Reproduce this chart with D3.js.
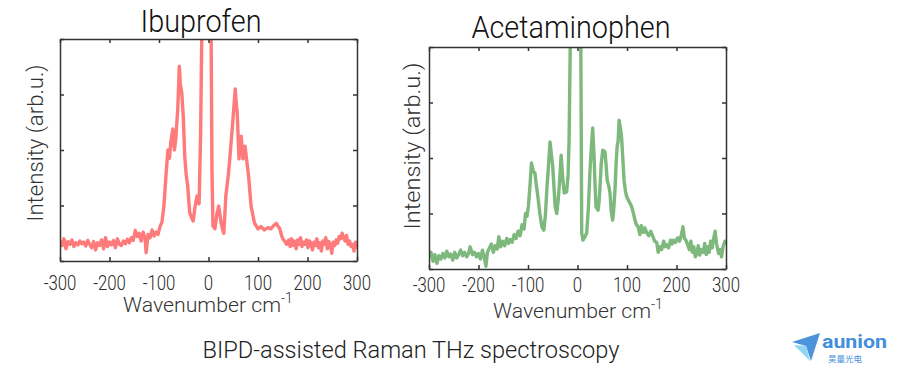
<!DOCTYPE html>
<html lang="en">
<head>
    <script src="https://d3js.org/d3.v7.min.js"></script>
    <style>
        body { margin: 0; background: #fff; }
        text { font-family: "Roboto", "Lato", sans-serif; font-weight: 300; }
    </style>
</head>
<body>
    <svg width="900" height="373"></svg>
    <script>
        // wavenumber (cm-1) and intensity
        const ibuWn = [-300,-296,-292,-288,-284,-280,-276,-272,-268,-264,-260,-256,-252,-248,-244,-240,-236,-232,-228,-224,-220,-216,-212,-208,-204,-200,-196,-192,-188,-184,-180,-176,-172,-168,-164,-160,-156,-152,-148,-144,-140,-136,-132,-128,-126,-122,-118,-114,-110,-106,-102,-98,-94,-90,-86,-82,-79,-76,-72,-69,-66,-62,-59,-57,-54,-51,-48,-45,-42,-38,-34,-31,-27,-23,-19,-16,-13,-8,-2,3,5,7,9,13,17,20.6,25.6,29,31,35,40,43,49.5,54,56,58,61.6,66,69.7,73.8,77.8,81,86,93,100,106,113,120,126,132,137,141,144,147,150,154,158,162,165,168,171,174,177,180,183,186,189,192,195,198,201,204,207,210,213,216,219,222,225,228,231,234,237,240,243,246,249,252,255,258,261,264,267,270,273,276,279,282,285,288,291,294,297,300];
        const ibuInt = [0.36,0.28,0.40,0.22,0.35,0.30,0.38,0.26,0.33,0.29,0.36,0.31,0.34,0.27,0.37,0.30,0.24,0.35,0.20,0.33,0.28,0.38,0.22,0.42,0.26,0.34,0.29,0.37,0.24,0.40,0.30,0.28,0.36,0.31,0.39,0.33,0.42,0.37,0.55,0.44,0.50,0.36,0.52,0.40,0.15,0.48,0.42,0.56,0.45,0.52,0.48,0.62,0.70,1.00,1.53,2.00,1.85,2.15,2.38,2.00,2.20,2.76,3.51,3.20,3.03,2.61,1.89,1.55,1.35,0.87,0.78,0.72,0.99,1.17,1.03,2.25,4.5,8,10,8,4.5,1.66,0.63,0.58,0.85,0.99,0.68,0.55,0.50,1.17,1.55,1.84,2.56,3.10,2.85,2.67,1.84,2.25,1.84,2.07,1.77,1.53,0.99,0.68,0.58,0.62,0.56,0.60,0.58,0.64,0.68,0.62,0.58,0.48,0.40,0.36,0.30,0.38,0.26,0.40,0.28,0.36,0.22,0.38,0.30,0.42,0.26,0.34,0.30,0.38,0.24,0.36,0.32,0.20,0.34,0.28,0.40,0.24,0.33,0.18,0.36,0.30,0.42,0.22,0.35,0.30,0.14,0.34,0.28,0.38,0.32,0.44,0.40,0.50,0.42,0.36,0.46,0.30,0.36,0.26,0.30,0.18,0.34,0.22];

        const aceWn = [-300,-296,-292,-288,-284,-280,-276,-272,-268,-264,-260,-256,-252,-248,-244,-240,-236,-232,-228,-224,-220,-217,-212,-208,-204,-200,-196,-192,-188,-185,-182,-178,-174,-170,-166,-162,-159,-155,-151,-147,-143,-139,-136,-132,-128,-124,-120,-116,-112,-108,-105,-102,-99,-96,-93,-89,-86,-83,-80,-76,-72,-68,-65,-62,-58,-55.5,-52,-50,-47,-45,-42,-39,-36,-33,-30,-27,-22,-19,-17,-14,-10,-4,3,6.5,8.5,11,15,18.6,22,25,28,30.7,33.5,35.5,37.4,41.5,43.5,45.5,48,51,55.5,58,60,63,65.7,68,71,73,75.7,78,80,82,84,86.5,89,91.5,94,97,99.4,104,109.5,113,116,119,122.6,126,129,133,136,140,144,148,152.6,156,160,163,166.7,170,174,177,180,184,188,191,194,198,202,206,210,213,216,219,222,226,229,232,235,238,241,244,247,250,254,257,260,263,266,269,272,275,278,281,285,288,291,294,298,300];
        const aceInt = [0.22,0.30,0.14,0.26,0.10,0.24,0.18,0.28,0.20,0.32,0.22,0.27,0.16,0.30,0.20,0.26,0.34,0.24,0.30,0.22,0.28,0.40,0.26,0.30,0.22,0.28,0.18,0.34,0.20,0.05,0.30,0.38,0.45,0.30,0.42,0.36,0.58,0.40,0.50,0.42,0.55,0.46,0.53,0.48,0.62,0.55,0.68,0.60,0.80,0.72,1.00,0.95,1.15,1.50,1.91,1.75,1.73,1.50,1.30,1.00,0.76,0.70,0.95,1.42,1.95,2.29,2.00,1.84,1.40,1.12,1.00,1.24,1.60,2.05,1.66,1.37,1.39,1.70,2.32,4.5,8,10,8,4.5,0.65,0.52,0.58,0.65,1.10,1.73,2.20,2.54,2.02,1.50,1.12,1.06,1.20,1.48,1.90,2.14,2.11,1.85,1.60,1.50,1.37,1.05,0.88,1.05,1.42,1.90,2.20,2.30,2.68,2.55,2.38,2.00,1.60,1.40,1.30,1.22,1.12,1.00,0.88,0.80,0.76,0.62,0.78,0.66,0.74,0.65,0.60,0.68,0.58,0.50,0.48,0.30,0.40,0.35,0.50,0.40,0.44,0.38,0.52,0.45,0.52,0.48,0.56,0.50,0.62,0.76,0.55,0.52,0.45,0.35,0.50,0.30,0.40,0.22,0.28,0.42,0.25,0.35,0.30,0.46,0.26,0.40,0.30,0.50,0.38,0.55,0.68,0.45,0.28,0.35,0.22,0.40,0.50,0.48];

        const xTicks = [-300, -200, -100, 0, 100, 200, 300];
        const yTicks = [0, 1, 2, 3, 4];

        const svg = d3.select("svg");

        const panels = [
            {id: "ibu", title: "Ibuprofen", wn: ibuWn, val: ibuInt, color: "#ff7a7a",
             left: 60, right: 357, top: 39, bottom: 261,
             titleX: 201, titleY: 32, titleLen: 121,
             yLabX: 43, yLabY: 143, yLabLen: 157,
             tickY: 290, xLabX: 207, xLabY: 312, xLabLen: 158},
            {id: "ace", title: "Acetaminophen", wn: aceWn, val: aceInt, color: "#7db87c",
             left: 429, right: 726, top: 47, bottom: 269,
             titleX: 571, titleY: 38, titleLen: 199,
             yLabX: 420, yLabY: 146, yLabLen: 167,
             tickY: 292, xLabX: 577, xLabY: 318, xLabLen: 158}
        ];

        panels.forEach(p => {
            const x = d3.scaleLinear().domain([-300, 300]).range([p.left, p.right]);
            const y = d3.scaleLinear().domain([0, 4]).range([p.bottom, p.top]);
            const g = svg.append("g");

            g.append("clipPath").attr("id", "clip-" + p.id)
                .append("rect")
                .attr("x", p.left).attr("y", p.top)
                .attr("width", p.right - p.left).attr("height", p.bottom - p.top);

            const pts = p.wn.map((w, i) => [w, p.val[i]]);
            g.append("path")
                .datum(pts)
                .attr("clip-path", "url(#clip-" + p.id + ")")
                .attr("fill", "none")
                .attr("stroke", p.color)
                .attr("stroke-width", 3.4)
                .attr("stroke-linejoin", "round")
                .attr("d", d3.line().x(d => x(d[0])).y(d => y(d[1])));

            // axes: ticks point inward, labels only on bottom
            const tickCol = "#333";
            g.append("g").attr("transform", `translate(0,${p.bottom})`)
                .call(d3.axisBottom(x).tickValues(xTicks).tickSizeInner(-4).tickSizeOuter(0).tickFormat(""))
                .call(a => a.selectAll("line,path").attr("stroke", tickCol).attr("stroke-width", 1.5));
            g.append("g").attr("transform", `translate(0,${p.top})`)
                .call(d3.axisTop(x).tickValues(xTicks).tickSizeInner(-4).tickSizeOuter(0).tickFormat(""))
                .call(a => a.selectAll("line,path").attr("stroke", tickCol).attr("stroke-width", 1.5));
            g.append("g").attr("transform", `translate(${p.left},0)`)
                .call(d3.axisLeft(y).tickValues(yTicks).tickSizeInner(-4).tickSizeOuter(0).tickFormat(""))
                .call(a => a.selectAll("line,path").attr("stroke", tickCol).attr("stroke-width", 1.5));
            g.append("g").attr("transform", `translate(${p.right},0)`)
                .call(d3.axisRight(y).tickValues(yTicks).tickSizeInner(-4).tickSizeOuter(0).tickFormat(""))
                .call(a => a.selectAll("line,path").attr("stroke", tickCol).attr("stroke-width", 1.5));

            // condensed tick labels
            g.selectAll("text.tick-lab")
                .data(xTicks)
                .join("text")
                .attr("class", "tick-lab")
                .attr("transform", d => `translate(${x(d)},${p.tickY}) scale(0.8,1)`)
                .attr("text-anchor", "middle")
                .attr("font-size", 21)
                .attr("fill", "#2a2a2a")
                .text(d => d);

            g.append("text")
                .attr("x", p.titleX).attr("y", p.titleY)
                .attr("text-anchor", "middle")
                .attr("font-size", 31)
                .attr("fill", "#111")
                .attr("textLength", p.titleLen)
                .attr("lengthAdjust", "spacingAndGlyphs")
                .text(p.title);

            g.append("text")
                .attr("transform", `translate(${p.yLabX},${p.yLabY}) rotate(-90)`)
                .attr("text-anchor", "middle")
                .attr("font-size", 22)
                .attr("fill", "#333")
                .attr("textLength", p.yLabLen)
                .attr("lengthAdjust", "spacingAndGlyphs")
                .text("Intensity (arb.u.)");

            const xl = g.append("text")
                .attr("x", p.xLabX - p.xLabLen / 2 - 5).attr("y", p.xLabY)
                .attr("font-size", 20)
                .attr("fill", "#333");
            xl.append("tspan")
                .attr("textLength", p.xLabLen)
                .attr("lengthAdjust", "spacingAndGlyphs")
                .text("Wavenumber cm");
            xl.append("tspan").attr("dy", -9).attr("font-size", 14).text("-1");
        });

        svg.append("text")
            .attr("x", 411).attr("y", 358)
            .attr("text-anchor", "middle")
            .attr("font-size", 23)
            .attr("fill", "#222")
            .attr("textLength", 417)
            .attr("lengthAdjust", "spacingAndGlyphs")
            .text("BIPD-assisted Raman THz spectroscopy");

        // logo
        const logo = svg.append("g");
        logo.append("path").attr("d", "M792,342 L820,333 L811,361 L806,346 Z").attr("fill", "#4d93dc");
        logo.append("path").attr("d", "M794,345 L806,346 L810,361 Z").attr("fill", "#8fd6f2");
        logo.append("text").attr("x", 822).attr("y", 348)
            .style("font-family", "Roboto, sans-serif").style("font-weight", "bold")
            .attr("font-size", 18).attr("fill", "#3f8fdc")
            .attr("textLength", 65).attr("lengthAdjust", "spacingAndGlyphs")
            .text("aunion");
        logo.append("text").attr("x", 845).attr("y", 362)
            .attr("text-anchor", "middle")
            .style("font-family", "Noto Sans CJK SC, sans-serif").style("font-weight", "normal")
            .attr("font-size", 8.5).attr("fill", "#3f8fdc")
            .text("昊量光电");
    </script>
</body>
</html>
